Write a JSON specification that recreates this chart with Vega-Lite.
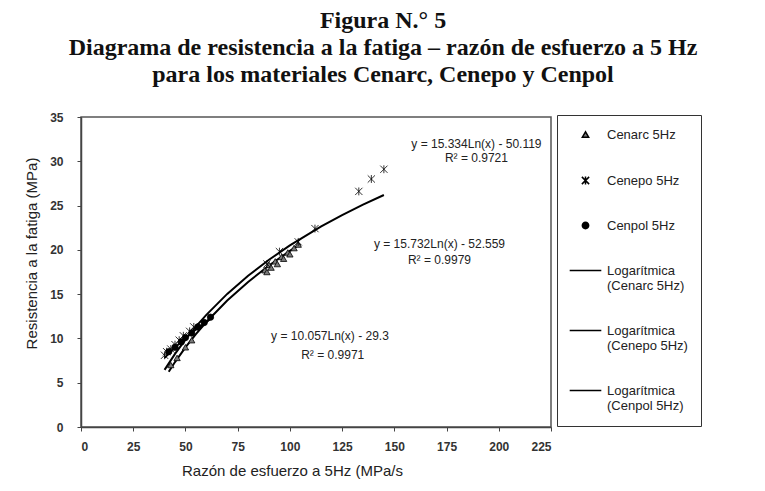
{
  "$schema": "https://vega.github.io/schema/vega-lite/v6.json",
  "width": 470,
  "height": 310,
  "autosize": {"type": "none"},
  "padding": {"left": 81, "top": 117, "right": 214, "bottom": 64},
  "background": "white",
  "title": {
    "text": ["Figura N.° 5", "Diagrama de resistencia a la fatiga – razón de esfuerzo a 5 Hz", "para los materiales Cenarc, Cenepo y Cenpol"],
    "font": "Liberation Serif",
    "fontSize": 24,
    "fontWeight": "bold",
    "color": "#111",
    "lineHeight": 27,
    "anchor": "middle",
    "frame": "group",
    "dx": 67,
    "offset": 24
  },
  "config": {
    "view": {"stroke": "#555", "strokeWidth": 1.5},
    "axis": {
      "grid": false,
      "domainColor": "#444",
      "domainWidth": 1.5,
      "tickColor": "#444",
      "tickSize": 4,
      "labelFont": "Liberation Sans",
      "labelFontSize": 12,
      "labelFontWeight": "bold",
      "labelColor": "#333",
      "titleFont": "Liberation Sans",
      "titleFontSize": 15,
      "titleFontWeight": "normal",
      "titleColor": "#222"
    },
    "legend": {
      "orient": "none",
      "legendX": 476,
      "legendY": -2,
      "strokeColor": "#333",
      "padding": 13,
      "rowPadding": 31,
      "labelOffset": 15,
      "symbolOffset": 9,
      "symbolSize": 40,
      "symbolStrokeWidth": 1.5,
      "symbolStrokeColor": "black",
      "labelFont": "Liberation Sans",
      "labelFontSize": 13,
      "labelColor": "#222",
      "labelLimit": 300
    }
  },
  "datasets": {
    "puntos": [
      {"serie": "Cenarc 5Hz", "x": 43, "y": 7.0},
      {"serie": "Cenarc 5Hz", "x": 46, "y": 7.8},
      {"serie": "Cenarc 5Hz", "x": 50, "y": 9.0},
      {"serie": "Cenarc 5Hz", "x": 53, "y": 9.8},
      {"serie": "Cenarc 5Hz", "x": 88, "y": 17.7},
      {"serie": "Cenarc 5Hz", "x": 89, "y": 17.5},
      {"serie": "Cenarc 5Hz", "x": 90, "y": 18.3},
      {"serie": "Cenarc 5Hz", "x": 91, "y": 18.0},
      {"serie": "Cenarc 5Hz", "x": 93, "y": 18.7},
      {"serie": "Cenarc 5Hz", "x": 94, "y": 18.4},
      {"serie": "Cenarc 5Hz", "x": 96, "y": 19.2},
      {"serie": "Cenarc 5Hz", "x": 97, "y": 19.0},
      {"serie": "Cenarc 5Hz", "x": 99, "y": 19.7},
      {"serie": "Cenarc 5Hz", "x": 100, "y": 19.5},
      {"serie": "Cenarc 5Hz", "x": 102, "y": 20.2},
      {"serie": "Cenarc 5Hz", "x": 104, "y": 20.6},
      {"serie": "Cenepo 5Hz", "x": 40, "y": 8.1},
      {"serie": "Cenepo 5Hz", "x": 41, "y": 8.5},
      {"serie": "Cenepo 5Hz", "x": 43, "y": 8.8},
      {"serie": "Cenepo 5Hz", "x": 45, "y": 9.3},
      {"serie": "Cenepo 5Hz", "x": 47, "y": 9.8},
      {"serie": "Cenepo 5Hz", "x": 49, "y": 10.3},
      {"serie": "Cenepo 5Hz", "x": 52, "y": 10.8},
      {"serie": "Cenepo 5Hz", "x": 54, "y": 11.3},
      {"serie": "Cenepo 5Hz", "x": 89, "y": 18.4},
      {"serie": "Cenepo 5Hz", "x": 95, "y": 19.8},
      {"serie": "Cenepo 5Hz", "x": 104, "y": 20.9},
      {"serie": "Cenepo 5Hz", "x": 112, "y": 22.4},
      {"serie": "Cenepo 5Hz", "x": 133, "y": 26.6},
      {"serie": "Cenepo 5Hz", "x": 139, "y": 28.0},
      {"serie": "Cenepo 5Hz", "x": 145, "y": 29.1},
      {"serie": "Cenpol 5Hz", "x": 42, "y": 8.5},
      {"serie": "Cenpol 5Hz", "x": 45, "y": 9.0},
      {"serie": "Cenpol 5Hz", "x": 48, "y": 9.6},
      {"serie": "Cenpol 5Hz", "x": 50, "y": 10.1},
      {"serie": "Cenpol 5Hz", "x": 53, "y": 10.6},
      {"serie": "Cenpol 5Hz", "x": 56, "y": 11.3},
      {"serie": "Cenpol 5Hz", "x": 59, "y": 11.8},
      {"serie": "Cenpol 5Hz", "x": 62, "y": 12.4}
    ],
    "tendencias": [
      {"serie": "Logarítmica (Cenarc 5Hz)", "x": 42, "y": 6.24},
      {"serie": "Logarítmica (Cenarc 5Hz)", "x": 45, "y": 7.33},
      {"serie": "Logarítmica (Cenarc 5Hz)", "x": 50, "y": 8.98},
      {"serie": "Logarítmica (Cenarc 5Hz)", "x": 55, "y": 10.48},
      {"serie": "Logarítmica (Cenarc 5Hz)", "x": 60, "y": 11.85},
      {"serie": "Logarítmica (Cenarc 5Hz)", "x": 70, "y": 14.28},
      {"serie": "Logarítmica (Cenarc 5Hz)", "x": 80, "y": 16.38},
      {"serie": "Logarítmica (Cenarc 5Hz)", "x": 90, "y": 18.23},
      {"serie": "Logarítmica (Cenarc 5Hz)", "x": 100, "y": 19.89},
      {"serie": "Logarítmica (Cenarc 5Hz)", "x": 105, "y": 20.66},
      {"serie": "Logarítmica (Cenepo 5Hz)", "x": 40, "y": 6.45},
      {"serie": "Logarítmica (Cenepo 5Hz)", "x": 45, "y": 8.25},
      {"serie": "Logarítmica (Cenepo 5Hz)", "x": 50, "y": 9.87},
      {"serie": "Logarítmica (Cenepo 5Hz)", "x": 55, "y": 11.33},
      {"serie": "Logarítmica (Cenepo 5Hz)", "x": 60, "y": 12.66},
      {"serie": "Logarítmica (Cenepo 5Hz)", "x": 70, "y": 15.03},
      {"serie": "Logarítmica (Cenepo 5Hz)", "x": 80, "y": 17.08},
      {"serie": "Logarítmica (Cenepo 5Hz)", "x": 90, "y": 18.88},
      {"serie": "Logarítmica (Cenepo 5Hz)", "x": 100, "y": 20.50},
      {"serie": "Logarítmica (Cenepo 5Hz)", "x": 115, "y": 22.64},
      {"serie": "Logarítmica (Cenepo 5Hz)", "x": 125, "y": 23.92},
      {"serie": "Logarítmica (Cenepo 5Hz)", "x": 135, "y": 25.10},
      {"serie": "Logarítmica (Cenepo 5Hz)", "x": 145, "y": 26.19},
      {"serie": "Logarítmica (Cenpol 5Hz)", "x": 40, "y": 7.80},
      {"serie": "Logarítmica (Cenpol 5Hz)", "x": 45, "y": 8.98},
      {"serie": "Logarítmica (Cenpol 5Hz)", "x": 50, "y": 10.04},
      {"serie": "Logarítmica (Cenpol 5Hz)", "x": 55, "y": 11.00},
      {"serie": "Logarítmica (Cenpol 5Hz)", "x": 62, "y": 12.21}
    ],
    "ecuaciones": [
      {"x": 189.3, "y": 31.95, "t": "y = 15.334Ln(x) - 50.119"},
      {"x": 189.3, "y": 30.35, "t": "R² = 0.9721"},
      {"x": 171.6, "y": 20.65, "t": "y = 15.732Ln(x) - 52.559"},
      {"x": 171.6, "y": 18.8, "t": "R² = 0.9979"},
      {"x": 119.2, "y": 10.25, "t": "y = 10.057Ln(x) - 29.3"},
      {"x": 120.5, "y": 8.1, "t": "R² = 0.9971"}
    ]
  },
  "layer": [
    {
      "data": {"name": "tendencias"},
      "mark": {"type": "line", "color": "black", "strokeWidth": 2},
      "encoding": {
        "x": {"field": "x", "type": "quantitative", "scale": {"domain": [0, 225], "nice": false},
              "axis": {"values": [0, 25, 50, 75, 100, 125, 150, 175, 200, 225], "title": "Razón de esfuerzo a 5Hz (MPa/s", "labelPadding": 10,
                       "titleX": 211, "titleY": 43, "titleAlign": "center", "titleBaseline": "middle"}},
        "y": {"field": "y", "type": "quantitative", "scale": {"domain": [0, 35], "nice": false},
              "axis": {"values": [0, 5, 10, 15, 20, 25, 30, 35], "title": "Resistencia a la fatiga (MPa)", "labelPadding": 14,
                       "titleX": -50, "titleY": 136, "titleAlign": "center", "titleBaseline": "middle", "titleAngle": 270}},
        "detail": {"field": "serie", "type": "nominal"}
      }
    },
    {
      "data": {"name": "puntos"},
      "mark": {"type": "point", "filled": true, "stroke": "black", "strokeWidth": 0.8, "opacity": 1, "size": 40},
      "encoding": {
        "x": {"field": "x", "type": "quantitative"},
        "y": {"field": "y", "type": "quantitative"},
        "shape": {"field": "serie", "type": "nominal",
          "scale": {"domain": ["Cenarc 5Hz", "Cenepo 5Hz", "Cenpol 5Hz", "Logarítmica (Cenarc 5Hz)", "Logarítmica (Cenepo 5Hz)", "Logarítmica (Cenpol 5Hz)"],
                    "range": ["triangle-up", "M-1.15,-1.15L1.15,1.15M-1.15,1.15L1.15,-1.15M0,-1.25L0,1.25", "circle", "M-5,0L5,0", "M-5,0L5,0", "M-5,0L5,0"]},
          "legend": {
            "title": null,
            "labelExpr": "indexof(datum.label, 'Logarítmica') === 0 ? ['Logarítmica\u00a0\u00a0\u00a0\u00a0\u00a0\u00a0\u00a0\u00a0\u00a0\u00a0\u00a0\u00a0\u00a0\u00a0\u00a0', substring(datum.label, 12)] : datum.label"
          }},
        "color": {"field": "serie", "type": "nominal",
          "scale": {"domain": ["Cenarc 5Hz", "Cenepo 5Hz", "Cenpol 5Hz", "Logarítmica (Cenarc 5Hz)", "Logarítmica (Cenepo 5Hz)", "Logarítmica (Cenpol 5Hz)"],
                    "range": ["#7a7a7a", "black", "black", "black", "black", "black"]},
          "legend": {
            "title": null,
            "labelExpr": "indexof(datum.label, 'Logarítmica') === 0 ? ['Logarítmica\u00a0\u00a0\u00a0\u00a0\u00a0\u00a0\u00a0\u00a0\u00a0\u00a0\u00a0\u00a0\u00a0\u00a0\u00a0', substring(datum.label, 12)] : datum.label"
          }}
      }
    },
    {
      "data": {"name": "ecuaciones"},
      "mark": {"type": "text", "font": "Liberation Sans", "fontSize": 12, "color": "#222", "align": "center", "baseline": "middle"},
      "encoding": {
        "x": {"field": "x", "type": "quantitative"},
        "y": {"field": "y", "type": "quantitative"},
        "text": {"field": "t", "type": "nominal"}
      }
    }
  ]
}
